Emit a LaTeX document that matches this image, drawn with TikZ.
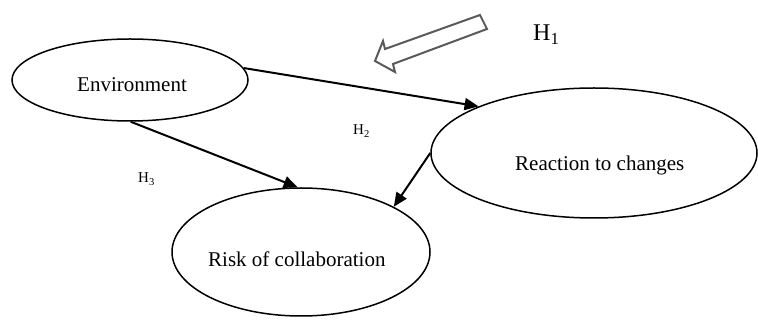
\documentclass[tikz,border=0pt]{standalone}
\usepackage{fontspec}
\setmainfont{Liberation Serif}
\usetikzlibrary{shapes.geometric,arrows.meta}
\begin{document}
\begin{tikzpicture}[x=1pt,y=-1pt,
  oval/.style={ellipse,draw=black,line width=1.5pt,inner sep=0pt},
  lbl/.style={inner sep=0pt,anchor=base west,font=\fontsize{21}{24}\selectfont},
  hlbl/.style={inner sep=0pt,anchor=base west,font=\fontsize{15}{18}\selectfont},
  link/.style={line width=2pt,-{Triangle[length=14pt,width=12pt]}},
  blockarrow/.style={draw={rgb,255:red,90;green,90;blue,90},line width=2pt,fill=white,line join=miter}
]
\useasboundingbox (0,0) rectangle (758,320);
% ellipses
\node[oval,minimum width=236pt,minimum height=82pt] (env) at (130,80) {};
\node[oval,minimum width=326pt,minimum height=130pt] (reac) at (594,153) {};
\node[oval,minimum width=258pt,minimum height=128pt] (risk) at (301,252) {};
% texts
\node[lbl] (envt) at (77,92) {Environment};
\node[lbl] (react) at (515,171) {Reaction to changes};
\node[lbl] (riskt) at (208,267) {Risk of collaboration};
% hypothesis labels
\node[inner sep=0pt,anchor=base west,font=\fontsize{24}{28}\selectfont] (h1) at (533,41) {H\textsubscript{1}};
\node[hlbl] (h2) at (353,135) {H\textsubscript{2}};
\node[hlbl] (h3) at (138,183) {H\textsubscript{3}};
% connectors
\draw[link] (env.6) -- (reac.158);
\draw[link] (env.-89) -- (risk.93);
\draw[link] (reac.180) -- (risk.26);
% hollow block arrow
\draw[blockarrow] (480,15) -- (385,49) -- (383,41) -- (375,61) -- (395,72) -- (393,64) -- (487,29) -- cycle;
\end{tikzpicture}
\end{document}
